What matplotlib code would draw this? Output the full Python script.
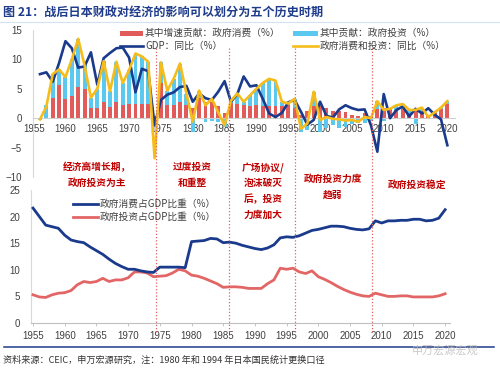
import matplotlib
matplotlib.use('Agg')
import matplotlib.pyplot as plt
from matplotlib.lines import Line2D
from matplotlib.patches import Rectangle
from matplotlib.transforms import blended_transform_factory

plt.rcParams['font.family'] = ['Liberation Sans', 'Noto Sans CJK SC', 'DejaVu Sans']
CJK = ['Noto Sans CJK SC', 'DejaVu Sans']

# ---------------- data ----------------
years_top = list(range(1956, 2021))
gov_cons_contrib = [0.1, -0.2, 3.5, 5.6, 3.2, 3.8, 5.3, 4.9, 1.8, 1.8,
                    2.7, 1.9, 2.7, 2.2, 2.5, 2.5, 2.5, 2.5, 0.3, 6.0,
                    2.3, 2.3, 2.7, 2.3, 1.7, 3.4, 2.8, 2.8, 2.0, 0.9,
                    2.6, 2.4, 2.2, 2.0, 2.2, 2.0, 2.0, 2.1, 2.0, 2.2,
                    1.7, 0.6, 1.2, 2.0, 2.0, 1.8, 1.3, 1.2, 1.0, 0.6,
                    0.3, 0.9, 0.4, 1.6, 1.7, 1.5, 1.4, 1.5, 0.8, 1.5,
                    1.2, 0.4, 0.8, 1.6, 2.4]
gov_inv_contrib = [-0.3, 2.2, 4.0, 2.7, 3.8, 6.2, 8.2, 4.1, 1.7, 3.2,
                   7.0, 2.7, 6.9, 3.8, 5.7, 8.5, 8.0, 7.1, -1.5, 3.5,
                   2.4, 4.4, 6.6, 1.9, -2.3, 1.3, -0.6, -0.4, -0.6, -1.5,
                   0.4, 1.8, 0.6, 1.9, 2.8, 4.0, 4.7, 4.3, 0.8, 0.3,
                   1.6, -2.3, -2.0, 2.5, -2.3, -1.6, -1.2, -1.6, -1.5, -1.0,
                   -0.9, -0.8, -0.5, 1.3, -0.5, 0.1, 0.8, 0.9, 0.6, -1.0,
                   0.5, -0.2, 0.2, 0.3, 0.5]
gdp_yoy = [7.5, 7.8, 6.2, 9.4, 13.1, 11.9, 8.6, 8.8, 11.2, 5.7,
           10.2, 11.1, 11.9, 12.0, 10.3, 4.4, 8.4, 8.0, -1.2, 3.1,
           4.0, 4.4, 5.3, 5.5, 2.8, 4.2, 3.4, 3.1, 4.5, 6.3,
           2.8, 4.1, 7.1, 5.4, 5.6, 3.3, 0.8, 0.2, 0.9, 2.7,
           3.1, 1.1, -1.1, -0.3, 2.8, 0.4, 0.1, 1.5, 2.2, 1.7,
           1.4, 1.5, -1.2, -5.7, 4.1, 0.0, 1.4, 2.0, 0.3, 1.6,
           0.8, 1.7, 0.6, -0.2, -4.6]
gov_ci_yoy = [-0.2, 2.0, 7.5, 8.3, 7.0, 10.0, 13.5, 9.0, 3.5, 5.0,
              9.7, 4.6, 9.6, 6.0, 8.2, 11.0, 10.5, 9.6, -6.8, 9.5,
              4.7, 6.7, 9.3, 4.2, -0.6, 4.7, 2.2, 3.3, 1.0, -1.2,
              3.0, 4.2, 2.8, 3.9, 5.0, 6.0, 6.7, 6.4, 2.8, 2.5,
              3.3, -1.8, -0.9, 4.5, -0.3, 0.2, -0.1, -0.2, -0.4, -0.3,
              -0.6, 0.2, 0.0, 2.9, 1.4, 1.6, 2.2, 2.4, 1.4, 1.4,
              1.8, 0.2, 1.0, 1.8, 2.9]

years_share = list(range(1955, 2021))
cons_share = [21.6, 20.0, 18.4, 18.1, 17.8, 16.5, 15.6, 15.3, 15.1, 14.3,
              13.6, 12.9, 12.0, 11.2, 10.6, 10.1, 10.1, 9.8, 9.6, 9.5,
              10.5, 10.5, 10.5, 10.5, 10.4, 15.3, 15.4, 15.5, 15.9, 15.8,
              15.1, 15.2, 15.0, 14.6, 14.3, 14.0, 13.8, 14.1, 14.7, 16.0,
              16.2, 16.1, 16.4, 16.9, 17.4, 17.6, 17.9, 18.2, 18.2, 18.1,
              17.8, 17.6, 17.5, 17.7, 19.2, 18.8, 19.2, 19.2, 19.3, 19.3,
              19.5, 19.5, 19.2, 19.3, 19.7, 21.3]
inv_share = [5.3, 4.9, 4.8, 5.3, 5.6, 5.7, 6.1, 7.2, 7.8, 7.6,
             7.8, 8.4, 7.8, 8.1, 8.1, 8.5, 9.6, 9.6, 9.4, 8.7,
             8.8, 8.9, 9.4, 10.1, 9.8, 9.0, 8.8, 8.4, 7.9, 7.4,
             6.7, 6.8, 6.8, 6.7, 6.5, 6.5, 6.5, 7.4, 8.1, 10.3,
             10.1, 10.3, 9.6, 9.3, 9.8, 8.7, 8.2, 7.6, 6.9, 6.3,
             5.8, 5.4, 5.1, 5.0, 5.6, 5.3, 5.0, 5.0, 5.1, 5.1,
             4.9, 4.9, 4.9, 4.9, 5.1, 5.5]

period_breaks = [1974.4, 1985.9, 1996.3, 2008.5]
xtick_years = list(range(1955, 2021, 5))

title = '图 21：战后日本财政对经济的影响可以划分为五个历史时期'
source = '资料来源：CEIC，申万宏源研究，注：1980 年和 1994 年日本国民统计更换口径'
lg_top = ['其中增速贡献：政府消费（%）', '其中贡献：政府投资（%）',
          'GDP：同比（%）', '政府消费和投资：同比（%）']
lg_bot = ['政府消费占GDP比重（%）', '政府投资占GDP比重（%）']
periods = ['经济高增长期，\n政府投资为主', '过度投资\n和重整', '广场协议/\n泡沫破灭\n后，投资\n力度加大',
           '政府投资力度\n趋弱', '政府投资稳定']
watermark = '申万宏源宏观'

# ---------------- style ----------------
C_RED = '#E25B5B'
C_BLUE = '#5BC8F0'
C_NAVY = '#1A3A8C'
C_YEL = '#F6BC1A'
C_RLINE = '#E36666'
C_ANN = '#C00000'
C_TXT = '#404040'
C_TITLE = '#1F3C8C'

W, H = 500, 368
fig = plt.figure(figsize=(5, 3.68), dpi=100)


def fx(px):
    return px / W


def fy(py):
    return 1 - py / H


# ---------------- top chart ----------------
ax1 = fig.add_axes([fx(33), fy(177), (455 - 33) / W, (177 - 30) / H])
ax1.set_xlim(1954.9, 2021.2)
ax1.set_ylim(-10, 15)
bw = 0.62
ax1.bar(years_top, gov_cons_contrib, width=bw, color=C_RED, zorder=2)
blue_bottom = []
for r, b in zip(gov_cons_contrib, gov_inv_contrib):
    if b >= 0:
        blue_bottom.append(max(r, 0))
    else:
        blue_bottom.append(min(r, 0))
ax1.bar(years_top, gov_inv_contrib, width=bw, bottom=blue_bottom, color=C_BLUE, zorder=2)
ax1.plot(years_top, gdp_yoy, color=C_NAVY, lw=1.9, zorder=4)
ax1.plot(years_top, gov_ci_yoy, color=C_YEL, lw=1.9, zorder=5)

for s in ['top', 'right']:
    ax1.spines[s].set_visible(False)
ax1.spines['left'].set_color('#D9D9D9')
ax1.spines['left'].set_linewidth(0.8)
ax1.spines['bottom'].set_position(('data', 0))
ax1.spines['bottom'].set_color('#D0D0D0')
ax1.spines['bottom'].set_linewidth(0.8)
ax1.set_yticks([-10, -5, 0, 5, 10, 15])
ax1.set_xticks(xtick_years)
ax1.tick_params(axis='y', length=0, pad=8, labelsize=7, labelcolor=C_TXT)
ax1.tick_params(axis='x', length=0, pad=4, labelsize=7, labelcolor=C_TXT)
ax1.patch.set_alpha(0)

# ---------------- bottom chart ----------------
ax2 = fig.add_axes([fx(31), fy(323), (450 - 31) / W, (323 - 190) / H])
ax2.set_xlim(1954.68, 2020.77)
ax2.set_ylim(0, 25)
ax2.plot(years_share, cons_share, color=C_NAVY, lw=2.0, zorder=4)
ax2.plot(years_share, inv_share, color=C_RLINE, lw=2.0, zorder=3)
for s in ['top', 'right']:
    ax2.spines[s].set_visible(False)
ax2.spines['left'].set_color('#D9D9D9')
ax2.spines['left'].set_linewidth(0.8)
ax2.spines['bottom'].set_color('#BFBFBF')
ax2.spines['bottom'].set_linewidth(0.8)
ax2.set_yticks([0, 5, 10, 15, 20, 25])
ax2.set_xticks(xtick_years)
ax2.tick_params(axis='y', length=0, pad=8, labelsize=7, labelcolor=C_TXT)
ax2.tick_params(axis='x', length=2.5, width=0.6, color='#BFBFBF', pad=3, labelsize=7, labelcolor=C_TXT)
ax2.patch.set_alpha(0)

# ---------------- period lines ----------------
tr = blended_transform_factory(ax2.transData, fig.transFigure)
for yb in period_breaks:
    fig.add_artist(Line2D([yb, yb], [fy(48), fy(332)], transform=tr, color='#E06060',
                          lw=0.9, linestyle=(0, (1, 1.6)), zorder=1))

# ---------------- legends ----------------
def patch(x0, x1, yc, h, color):
    fig.add_artist(Rectangle((fx(x0), fy(yc + h / 2)), (x1 - x0) / W, h / H,
                             transform=fig.transFigure, color=color, lw=0))


def hline(x0, x1, yc, color, lw):
    fig.add_artist(Line2D([fx(x0), fx(x1)], [fy(yc), fy(yc)], transform=fig.transFigure,
                          color=color, lw=lw))


def txt(x, y, s, size=7, color=C_TXT, ha='left', va='center', weight='normal', ls=1.2, alpha=1.0):
    fig.text(fx(x), fy(y), s, fontsize=size, color=color, ha=ha, va=va,
             family=CJK, fontweight=weight, linespacing=ls, alpha=alpha)


patch(120, 143, 33, 5, C_RED)
txt(145, 33, lg_top[0])
patch(293, 318, 33, 5, C_BLUE)
txt(320, 33, lg_top[1])
hline(120, 143, 46, C_NAVY, 1.9)
txt(145, 46, lg_top[2])
hline(293, 318, 46, C_YEL, 1.9)
txt(320, 46, lg_top[3])

hline(73, 98, 204, C_NAVY, 2.0)
txt(100, 204, lg_bot[0])
hline(73, 98, 217, C_RLINE, 2.0)
txt(100, 217, lg_bot[1])

# ---------------- period annotations ----------------
txt(97, 175, periods[0], size=7, color=C_ANN, ha='center', weight='bold', ls=1.75)
txt(192, 175, periods[1], size=7, color=C_ANN, ha='center', weight='bold', ls=1.75)
txt(263, 191, periods[2], size=7, color=C_ANN, ha='center', weight='bold', ls=1.7)
txt(333, 187, periods[3], size=7, color=C_ANN, ha='center', weight='bold', ls=1.75)
txt(417, 185, periods[4], size=7, color=C_ANN, ha='center', weight='bold')

# ---------------- title / footer ----------------
txt(3, 12, title, size=8.7, color=C_TITLE, weight='bold')
hline(0, 500, 22, '#D5E1F0', 0.8)
hline(4, 494, 347, C_TITLE, 1.1)
txt(412, 350, watermark, size=8, color='#BBBBBB', alpha=0.8)
txt(3, 360, source, size=6.6, color='#333333')

fig.savefig('out.png', dpi=100)
